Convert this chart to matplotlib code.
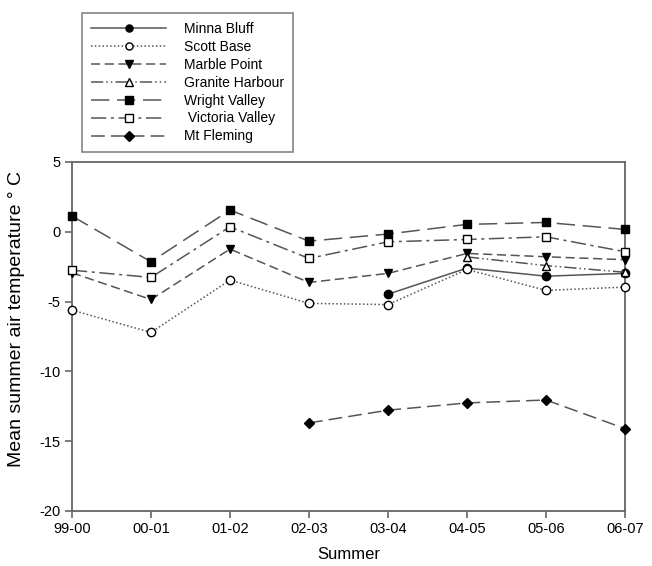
import matplotlib
matplotlib.use("Agg")
import matplotlib.pyplot as plt
import numpy as np

plt.rcParams['font.family'] = ['Liberation Sans', 'DejaVu Sans']
plt.rcParams['axes.unicode_minus'] = False

summers = ["99-00", "00-01", "01-02", "02-03", "03-04", "04-05", "05-06", "06-07"]
nan = np.nan
minna_bluff = [nan, nan, nan, nan, -4.47, -2.6, -3.18, -2.98]
scott_base = [-5.61, -7.21, -3.46, -5.13, -5.21, -2.7, -4.2, -3.96]
marble_point = [-2.94, -4.85, -1.24, -3.63, -2.98, -1.55, -1.79, -2.0]
granite_harbour = [nan, nan, nan, nan, nan, -1.8, -2.42, -2.9]
wright_valley = [1.13, -2.15, 1.56, -0.67, -0.16, 0.53, 0.67, 0.17]
victoria_valley = [-2.75, -3.27, 0.36, -1.91, -0.72, -0.55, -0.36, -1.43]
mt_fleming = [nan, nan, nan, -13.69, -12.78, -12.26, -12.05, -14.1]

fig = plt.figure(figsize=(6.52, 5.66), dpi=100)
ax = fig.add_axes([0.1104, 0.0972, 0.8482, 0.6166])

x = np.arange(len(summers))
lc = '#555555'
ms = 6.0
series = [
    ("Minna Bluff", minna_bluff, '-', 'o', 'black'),
    ("Scott Base", scott_base, (0, (1, 1.5)), 'o', 'white'),
    ("Marble Point", marble_point, (0, (6, 3)), 'v', 'black'),
    ("Granite Harbour", granite_harbour, (0, (8, 2, 1, 2, 1, 2)), '^', 'white'),
    ("Wright Valley", wright_valley, (0, (12, 5)), 's', 'black'),
    (" Victoria Valley", victoria_valley, (0, (10, 3, 2, 3)), 's', 'white'),
    ("Mt Fleming", mt_fleming, (0, (9, 4)), 'D', 'black'),
]
handles = []
for name, vals, ls, mk, fc in series:
    msz = ms if mk != 'D' else ms - 0.5
    h, = ax.plot(x, vals, linestyle=ls, color=lc, linewidth=1.1, marker=mk,
                 markersize=msz, markerfacecolor=fc, markeredgecolor='black',
                 markeredgewidth=1.0, label=name, clip_on=False, zorder=3)
    handles.append(h)

ax.set_xlim(0, 7)
ax.set_ylim(-20, 5)
ax.set_xticks(x)
ax.set_xticklabels(summers)
ax.set_yticks([-20, -15, -10, -5, 0, 5])
ax.tick_params(direction='out', length=5, width=1.2, color='#666666', labelsize=10.5, pad=3)
for s in ax.spines.values():
    s.set_color('#666666')
    s.set_linewidth(1.3)

ax.set_xlabel("Summer", fontsize=12, labelpad=8)
ax.set_ylabel("Mean summer air temperature \u00b0 C", fontsize=14)
ax.yaxis.set_label_coords(-0.085, 0.55)

leg = fig.legend(handles=handles, loc='upper left', bbox_to_anchor=(0.126, 0.977),
                 fontsize=10, handlelength=5.4, handletextpad=1.3, labelspacing=0.28,
                 borderpad=0.65, frameon=True, fancybox=False, borderaxespad=0,
                 markerscale=0.85)
leg.get_frame().set_edgecolor('#666666')
leg.get_frame().set_linewidth(1.2)

fig.savefig("out.png", dpi=100)
